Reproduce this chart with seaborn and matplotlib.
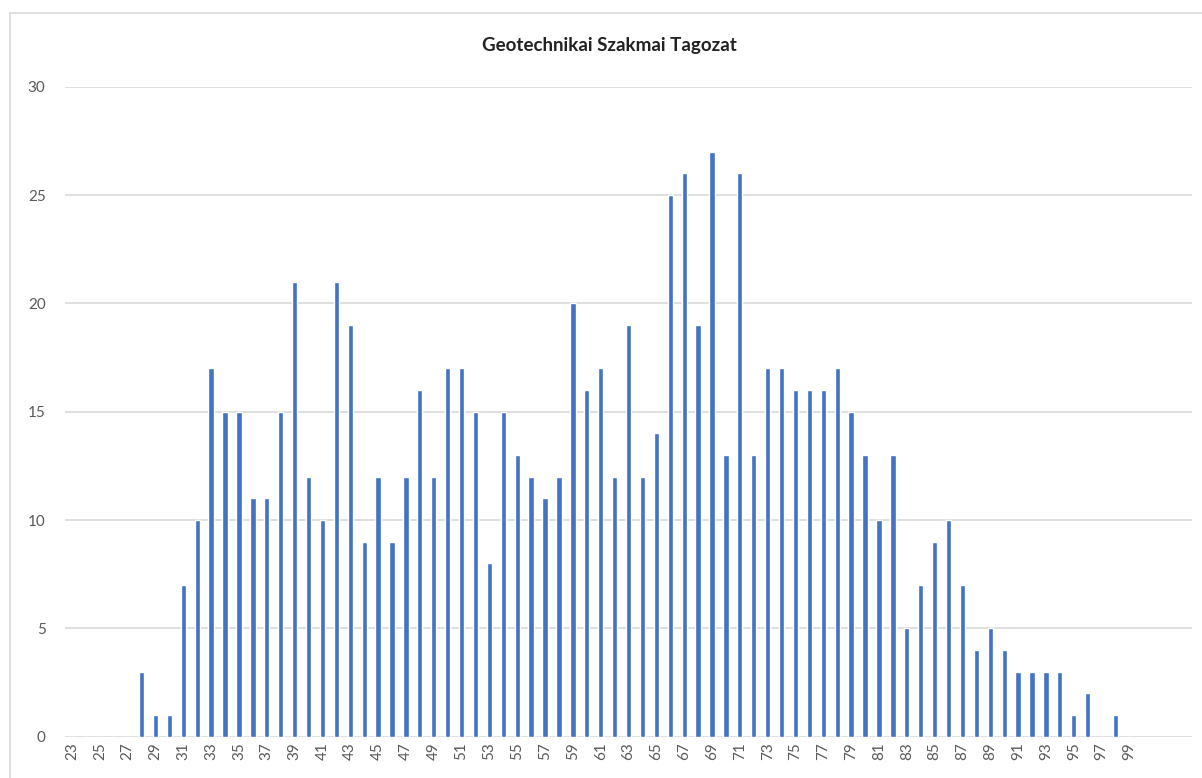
import pandas as pd
import matplotlib
matplotlib.use("Agg")
import matplotlib.pyplot as plt
from matplotlib.patches import Rectangle
import seaborn as sns


# Data: number of members by age
ages = list(range(23, 100))
counts = [
    0, 0, 0, 0, 0, 3, 1, 1, 7, 10,      # 23-32
    17, 15, 15, 11, 11, 15, 21, 12, 10, 21,  # 33-42
    19, 9, 12, 9, 12, 16, 12, 17, 17, 15,    # 43-52
    8, 15, 13, 12, 11, 12, 20, 16, 17, 12,   # 53-62
    19, 12, 14, 25, 26, 19, 27, 13, 26, 13,  # 63-72
    17, 17, 16, 16, 16, 17, 15, 13, 10, 13,  # 73-82
    5, 7, 9, 10, 7, 4, 5, 4, 3, 3,           # 83-92
    3, 3, 1, 2, 0, 1, 0,                     # 93-99
]
y_ticks = [0, 5, 10, 15, 20, 25, 30]
title = "Geotechnikai Szakmai Tagozat"
extra_blank_slots = 4   # empty category rows after 99 in the source chart

df = pd.DataFrame({"age": [str(a) for a in ages], "count": counts})


# Figure and axes
sns.set_style("white")
plt.rcParams["font.family"] = ["Lato", "DejaVu Sans"]

fig = plt.figure(figsize=(12.02, 7.78), dpi=100)
ax = fig.add_axes([0.0541, 0.0531, 0.9376, 0.8355])

# light frame of the chart area
fig.patches.append(Rectangle(
    (10 / 1202, -0.1), 1.2, 1 - 13 / 778 + 0.1,
    transform=fig.transFigure, fill=False,
    edgecolor="#D9D9D9", linewidth=1.2, zorder=0
))


# Bars
sns.barplot(
    data=df,
    x="age",
    y="count",
    order=[str(a) for a in ages],
    color="#4472C4",
    saturation=1,
    width=0.38,
    ax=ax,
    zorder=3
)


# Axes styling
ax.set_xlim(-0.5, len(ages) - 0.5 + extra_blank_slots)
ax.set_ylim(0, 30)
ax.set_yticks(y_ticks)
ax.yaxis.grid(True, color="#D9D9D9", linewidth=1.2, zorder=0)
ax.set_axisbelow(True)
for side in ax.spines:
    ax.spines[side].set_visible(False)

ax.set_xticks(range(0, len(ages), 2))
ax.set_xticklabels([str(a) for a in ages[::2]], rotation=90)
ax.tick_params(axis="x", length=0, pad=4, labelsize=11, labelcolor="#595959")
ax.tick_params(axis="y", length=0, pad=14, labelsize=11, labelcolor="#595959")
ax.set_xlabel("")
ax.set_ylabel("")

fig.text(0.507, 1 - 45 / 778, title, ha="center", va="center",
         fontsize=13.5, fontweight="bold", color="#222222")

fig.savefig("out.png", dpi=100, facecolor="white")
